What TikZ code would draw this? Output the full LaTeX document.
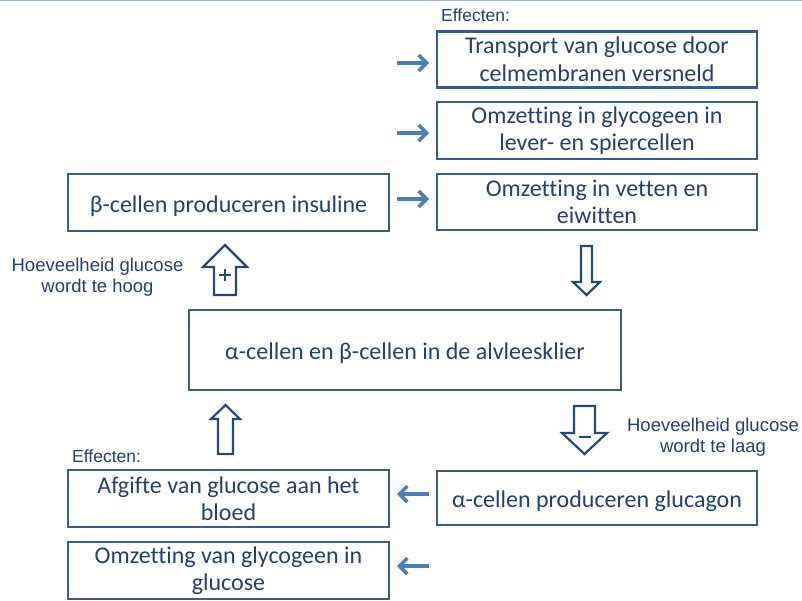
\documentclass[tikz,border=0pt]{standalone}
\usepackage{fontspec}
\setmainfont{Carlito}[Ligatures={NoCommon}]
\newfontfamily\arialf{Liberation Sans}
\usetikzlibrary{arrows.meta}
\definecolor{boxc}{RGB}{56,93,138}
\definecolor{txtc}{RGB}{36,64,110}
\definecolor{smallc}{RGB}{74,126,187}
\definecolor{blkc}{RGB}{40,72,118}
\definecolor{topc}{RGB}{165,182,206}
\begin{document}
\begin{tikzpicture}[x=1pt,y=-1pt,
  box/.style={draw=boxc, line width=2.4pt, text=txtc, font=\fontsize{24}{27.5}\selectfont, align=center, inner sep=0pt},
  onel/.style={text height=21pt, text depth=2pt},
  lbl/.style={text=txtc, font=\arialf\fontsize{17.5}{21}\selectfont, align=center, inner sep=0pt},
  lblb/.style={text=txtc, font=\arialf\fontsize{18.5}{21}\selectfont, align=center, inner sep=0pt},
  small/.style={draw=smallc, line width=3.5pt, -{Straight Barb[length=8pt,width=16pt]}},
  blk/.style={draw=blkc, line width=2.2pt, fill=white, line join=miter},
  sign/.style={draw=blkc, line width=2.2pt}]
\useasboundingbox (0,0) rectangle (802,600);
\fill[white] (0,0) rectangle (802,600);
\draw[topc, line width=1.2pt] (0,0.6) -- (802,0.6);

% boxes
\node[box, minimum width=320pt, minimum height=56pt] (b1) at (597,59.5) {Transport van glucose door\\celmembranen versneld};
\node[box, minimum width=320pt, minimum height=57pt] (b2) at (597,130.5) {Omzetting in glycogeen in\\lever- en spiercellen};
\node[box, minimum width=320pt, minimum height=56pt] (b3) at (597,202) {Omzetting in vetten en\\eiwitten};
\node[box, onel, minimum width=321pt, minimum height=57pt] (b4) at (228.5,202.5) {β-cellen produceren insuline};
\node[box, onel, minimum width=432pt, minimum height=80pt] (mid) at (405,350) {α-cellen en β-cellen in de alvleesklier};
\node[box, onel, minimum width=320pt, minimum height=54pt] (b5) at (597,498) {α-cellen produceren glucagon};
\node[box, minimum width=321pt, minimum height=57pt] (b6) at (228.5,498.5) {Afgifte van glucose aan het\\bloed};
\node[box, minimum width=321pt, minimum height=57pt] (b7) at (228.5,570.5) {Omzetting van glycogeen in\\glucose};

% labels
\node[lbl, anchor=base west] (eff1) at (441,21) {Effecten:};
\node[lbl, anchor=base west] (eff2) at (72,462) {Effecten:};
\node[lblb, anchor=base] (hoog) at (97.5,292) {Hoeveelheid glucose\\wordt te hoog};
\node[lblb, anchor=base] (laag) at (713,452) {Hoeveelheid glucose\\wordt te laag};

% small arrows
\coordinate (s1) at (397,63);   \coordinate (e1) at (429,63);
\coordinate (s2) at (397,133);  \coordinate (e2) at (429,133);
\coordinate (e3) at (429,199);
\coordinate (s6) at (429,494);  \coordinate (e6) at (397,494);
\coordinate (s7) at (429,566);  \coordinate (e7) at (397,566);
\draw[small] (s1) -- (e1);
\draw[small] (s2) -- (e2);
\draw[small] (s1 |- e3) -- (e3);
\draw[small] (s6) -- (e6);
\draw[small] (s7) -- (e7);

% block arrows
% up arrow with plus (mid -> b4)
\draw[blk] (214,295) -- (214,267) -- (203,267) -- (225,245) -- (247,267) -- (236,267) -- (236,295) -- cycle;
\draw[sign] (219,275) -- (231,275) (225,269) -- (225,281);
% down arrow (b3 -> mid)
\draw[blk] (581,246) -- (592,246) -- (592,282) -- (600,282) -- (586.5,295) -- (573,282) -- (581,282) -- cycle;
% down arrow with minus (mid -> b5)
\draw[blk] (574,406) -- (595,406) -- (595,433) -- (607,433) -- (584.5,454) -- (562,433) -- (574,433) -- cycle;
\draw[sign] (578.5,437) -- (590.5,437);
% up arrow (b6 -> mid)
\draw[blk] (218,454) -- (218,419) -- (211,419) -- (225.5,405) -- (240,419) -- (233,419) -- (233,454) -- cycle;
\end{tikzpicture}
\end{document}
